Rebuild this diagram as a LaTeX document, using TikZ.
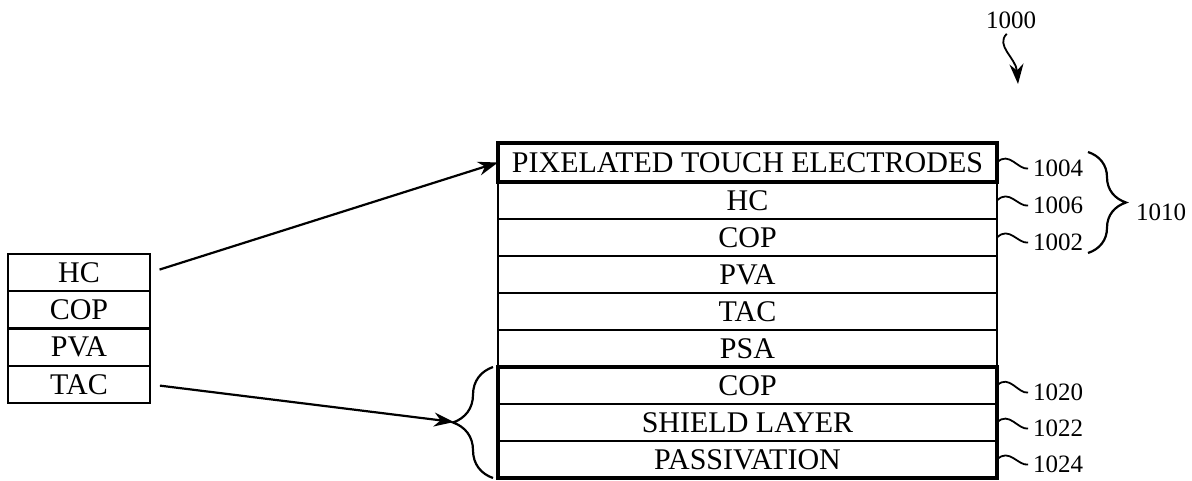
\documentclass[tikz,border=0pt]{standalone}
\usepackage{fontspec}
\setmainfont{Liberation Serif}
\usetikzlibrary{arrows.meta,decorations.pathreplacing}

\begin{document}
\begin{tikzpicture}[x=0.5pt, y=-0.5pt, line width=1.1pt,
  layer/.style={draw, inner sep=0pt, outer sep=0pt, minimum width=249.5pt,
    minimum height=18.5pt, font=\fontsize{15}{16}\selectfont},
  smalllayer/.style={layer, minimum width=71pt, minimum height=18.6pt},
  reflabel/.style={anchor=west, inner sep=0pt, font=\fontsize{12.5}{14}\selectfont},
  lead/.style={line width=0.9pt, shorten >=2pt},
  arr/.style={-{Stealth[length=10pt,width=7pt]}, line width=1.1pt}]
  \useasboundingbox (0,0) rectangle (1192,481);
  % left stack
  \node[smalllayer] (hcl) at (79,272.6) {HC};
  \node[smalllayer] (copl) at (79,309.9) {COP};
  \node[smalllayer] (pval) at (79,347.1) {PVA};
  \node[smalllayer] (tacl) at (79,384.4) {TAC};
  % right stack
  \node[layer, minimum height=19.5pt] (pte) at (747.5,162.5) {PIXELATED TOUCH ELECTRODES};
  \node[layer] (hcr) at (747.5,200.5) {HC};
  \node[layer] (copr) at (747.5,237.5) {COP};
  \node[layer] (pvar) at (747.5,274.5) {PVA};
  \node[layer] (tacr) at (747.5,311.5) {TAC};
  \node[layer] (psa) at (747.5,348.5) {PSA};
  \node[layer] (copb) at (747.5,385.5) {COP};
  \node[layer] (shield) at (747.5,422.5) {SHIELD LAYER};
  \node[layer] (pas) at (747.5,459.5) {PASSIVATION};
  \draw[line width=2.2pt] (pte.north west) rectangle (pte.south east);
  \draw[line width=2.2pt] (copb.north west) rectangle (pas.south east);
  % reference numerals
  \node[reflabel] (l1004) at (1032,168) {1004};
  \node[reflabel] (l1006) at (1032,205) {1006};
  \node[reflabel] (l1002) at (1032,242) {1002};
  \node[reflabel] (l1020) at (1032,392) {1020};
  \node[reflabel] (l1022) at (1032,428) {1022};
  \node[reflabel] (l1024) at (1032,464) {1024};
  \draw[lead] (pte.east) .. controls +(12,-12) and +(-14,2) .. (l1004.west);
  \draw[lead] (hcr.east) .. controls +(12,-12) and +(-14,2) .. (l1006.west);
  \draw[lead] (copr.east) .. controls +(12,-12) and +(-14,2) .. (l1002.west);
  \draw[lead] (copb.east) .. controls +(12,-12) and +(-14,2) .. (l1020.west);
  \draw[lead] (shield.east) .. controls +(12,-12) and +(-14,2) .. (l1022.west);
  \draw[lead] (pas.east) .. controls +(12,-12) and +(-14,2) .. (l1024.west);
  % braces
  \draw[decorate, decoration={brace, amplitude=19pt}] (1088,152) -- (1088,253);
  \node[reflabel] (l1010) at (1135,212) {1010};
  \draw[decorate, decoration={brace, amplitude=20pt}]
    ([xshift=-2.5pt]pas.south west) -- ([xshift=-2.5pt]copb.north west);
  \coordinate (bracetip) at (454,422);
  % arrows
  \draw[arr, shorten <=5pt] (hcl.east) -- (pte.west);
  \draw[arr, shorten <=5pt] (tacl.east) -- (bracetip);
  \node[reflabel, anchor=center] (l1000) at (1011,20) {1000};
  \coordinate (t1000) at (1018,84);
  \draw[arr, line width=0.9pt, shorten <=3pt] (l1000.south)
    .. controls +(-16,16) and +(-2,-26) .. (t1000);
\end{tikzpicture}
\end{document}
